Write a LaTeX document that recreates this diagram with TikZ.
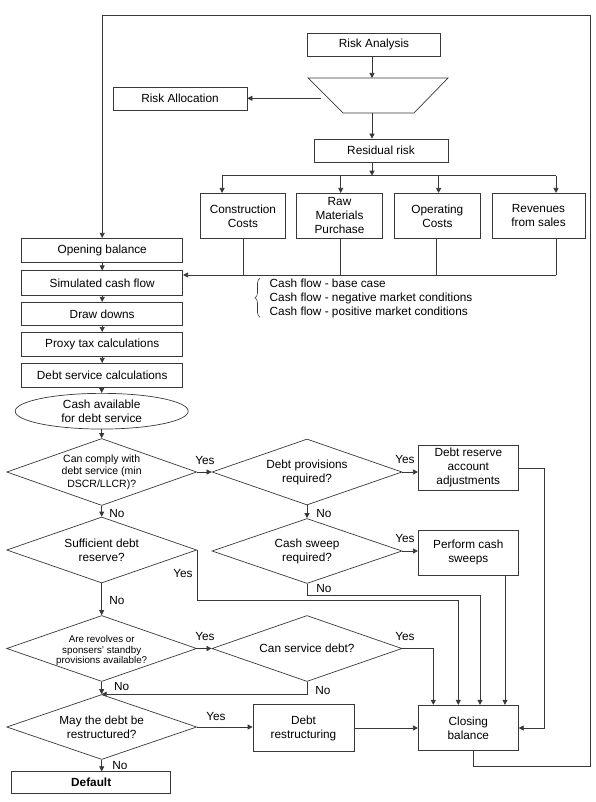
\documentclass[tikz,border=0pt]{standalone}
\usepackage{fontspec}
\setmainfont{Liberation Sans}
\usetikzlibrary{arrows.meta,shapes.geometric,decorations.pathreplacing}
\begin{document}
\begin{tikzpicture}[x=1pt,y=-1pt,
  every node/.style={font=\fontsize{11.8}{14}\selectfont, text=black, inner sep=0pt},
  line/.style={draw=black!78, line width=0.7pt},
  arr/.style={line, -{Triangle[length=5pt,width=5pt]}},
  box/.style={line, rectangle, align=center},
  dia/.style={line, diamond, minimum width=190pt, minimum height=66pt},
  dtext/.style={align=center},
  small/.style={align=center, font=\fontsize{10.5}{12.4}\selectfont},
  tiny/.style={align=center, font=\fontsize{9.8}{10.8}\selectfont},
  lbl/.style={font=\fontsize{11.8}{14}\selectfont}
]
\useasboundingbox (0,0) rectangle (595,802);

% ---------- top section ----------
\node[box, minimum width=133pt, minimum height=23pt] (ra) at (374,44.5) {Risk Analysis};
\draw[line] (308,78) -- (448,78) -- (414,113) -- (343,113) -- cycle;
\coordinate (tzN) at (372,78);
\coordinate (tzS) at (372,113);
\coordinate (tzW) at (321,98.3);
\node[box, minimum width=134pt, minimum height=23pt] (rl) at (180,98.5) {Risk Allocation};
\node[box, minimum width=134pt, minimum height=23pt] (rr) at (381,150.5) {Residual risk};

\draw[arr] (ra.south -| tzN) -- (tzN);
\draw[arr] (tzW) -- (tzW -| rl.east);
\draw[arr] (tzS) -- (tzS |- rr.north);

\coordinate (j) at (372,175.7);
\coordinate (j1) at (222.1,175.7);
\coordinate (j2) at (340.7,175.7);
\coordinate (j3) at (438.6,175.7);
\coordinate (j4) at (556,175.7);
\draw[arr] (rr.south -| j) -- (j);
\draw[line] (j1) -- (j4);

\node[box, minimum width=85.6pt, minimum height=45pt] (cc) at (242.9,215.8) {Construction\\Costs};
\node[box, minimum width=85.6pt, minimum height=45pt] (rm) at (339.5,215.8) {Raw\\Materials\\Purchase};
\node[box, minimum width=86pt, minimum height=45pt] (oc) at (437.4,215.8) {Operating\\Costs};
\node[box, minimum width=93pt, minimum height=45pt] (rv) at (538.5,215.8) {Revenues\\from sales};

\draw[arr] (j1) -- (j1 |- cc.north);
\draw[arr] (j2) -- (j2 |- rm.north);
\draw[arr] (j3) -- (j3 |- oc.north);
\draw[arr] (j4) -- (j4 |- rv.north);

\coordinate (b1) at (243.3,275);
\coordinate (b2) at (340.7,275);
\coordinate (b3) at (436.7,275);
\coordinate (b4) at (556,275);
\draw[line] (b1 |- cc.south) -- (b1);
\draw[line] (b2 |- rm.south) -- (b2);
\draw[line] (b3 |- oc.south) -- (b3);
\draw[line] (b4 |- rv.south) -- (b4);

% ---------- left column ----------
\node[box, minimum width=161pt, minimum height=24.4pt] (ob) at (102.2,250.5) {Opening balance};
\node[box, minimum width=161pt, minimum height=24.3pt] (sc) at (102.2,282.9) {Simulated cash flow};
\node[box, minimum width=161pt, minimum height=23.4pt] (dd) at (102.2,314) {Draw downs};
\node[box, minimum width=161pt, minimum height=23.7pt] (pt) at (102.2,344.2) {Proxy tax calculations};
\node[box, minimum width=161pt, minimum height=24pt] (ds) at (102.2,375.3) {Debt service calculations};
\node[line, ellipse, minimum width=173pt, minimum height=35.7pt] (ca) at (101.7,411.2) {};
\node[align=center, font=\fontsize{11.8}{13.3}\selectfont] (cat) at (ca.center) {Cash available\\for debt service};

\draw[arr] (b4) -- (b4 -| sc.east);

\draw[arr] (ob) -- (sc);
\draw[arr] (sc) -- (dd);
\draw[arr] (dd) -- (pt);
\draw[arr] (pt) -- (ds);
\draw[arr] (ds.south -| ca.north) -- (ca.north);

% ---------- decision diamonds ----------
\node[dia, minimum height=67pt] (d1) at (101.7,472) {};
\node[small] (d1t) at (d1.center) {Can comply with\\debt service (min\\DSCR/LLCR)?};
\node[dia] (d2) at (307,472) {};
\node[dtext] (d2t) at (d2.center) {Debt provisions\\required?};
\node[dia] (d3) at (101.7,550) {};
\node[dtext] (d3t) at (d3.center) {Sufficient debt\\reserve?};
\node[dia, minimum height=65pt] (d5) at (307,551) {};
\node[dtext] (d5t) at (d5.center) {Cash sweep\\required?};
\node[dia] (d4) at (101.7,648.5) {};
\node[tiny] (d4t) at ([yshift=-2pt]d4.center) {Are revolves or\\sponsers' standby\\provisions available?};
\node[dia] (d6) at (307,648.5) {};
\node[dtext] (d6t) at (d6.center) {Can service debt?};
\node[dia, minimum height=65pt] (d7) at (101.7,727) {};
\node[dtext] (d7t) at (d7.center) {May the debt be\\restructured?};

% ---------- right boxes ----------
\node[box, minimum width=100pt, minimum height=45.7pt] (dr) at (468.3,467.9) {Debt reserve\\account\\adjustments};
\node[box, minimum width=100pt, minimum height=45.7pt] (pc) at (468.3,552.9) {Perform cash\\sweeps};
\node[box, minimum width=101pt, minimum height=46.6pt] (rs) at (303.5,728) {Debt\\restructuring};
\node[box, minimum width=100pt, minimum height=45.6pt] (cb) at (468.3,728) {Closing\\balance};
\node[box, minimum width=159pt, minimum height=21.6pt, font=\bfseries\fontsize{11.8}{14}\selectfont] (df) at (91.2,782.5) {Default};

% ---------- connectors ----------
\draw[arr] (ca) -- (d1);
\draw[arr] (d1) -- (d2);
\draw[arr] (d2.east) -- (d2.east -| dr.west);
\draw[arr] (d1) -- (d3);
\draw[arr] (d2) -- (d5);
\draw[arr] (d5.east) -- (d5.east -| pc.west);
\draw[arr] (d3) -- (d4);
\draw[arr] (d4) -- (d6);
\draw[arr] (d4) -- (d7);
\draw[arr] (d6.south) |- (d7.north);
\draw[arr] (d7.east) -- (d7.east -| rs.west);
\draw[arr] (rs) -- (cb);
\draw[arr] (d7.south) -- (d7.south |- df.north);

\draw[arr] (d3.east) -- ++(0,50) -| ([xshift=-10pt]cb.north);
\draw[arr] (d5.south) -- ++(0,11.7) -| ([xshift=11.7pt]cb.north);
\draw[arr] (d6.east) -| ([xshift=-35pt]cb.north);
\draw[arr] ([xshift=36.7pt]pc.south) -- ([xshift=36.7pt]cb.north);
\draw[arr] (dr.east) -| ([xshift=25.7pt]cb.east) -- (cb.east);

% outer feedback loop
\coordinate (lr) at (590.5,766);
\coordinate (ur) at (590.5,15.3);
\draw[arr] ([xshift=5pt]cb.south) |- (lr) -- (ur) -| (ob.north);

% ---------- labels ----------
\node[lbl] (y1) at (205,460) {Yes};
\node[lbl] (y2) at (405,459) {Yes};
\node[lbl] (n1) at (117,513) {No};
\node[lbl] (n2) at (324,513.3) {No};
\node[lbl] (y5) at (405,538) {Yes};
\node[lbl] (n5) at (324,588.3) {No};
\node[lbl] (y3) at (183,573.3) {Yes};
\node[lbl] (n3) at (117,600) {No};
\node[lbl] (y4) at (205,636.7) {Yes};
\node[lbl] (y6) at (405,636.7) {Yes};
\node[lbl] (n6) at (323,690) {No};
\node[lbl] (n4) at (121.7,686.7) {No};
\node[lbl] (y7) at (216,716) {Yes};
\node[lbl] (n7) at (120,765.7) {No};

% ---------- cash flow scenarios ----------
\coordinate (brT) at (260,278.3);
\coordinate (brB) at (260,317.3);
\draw[line, line width=0.6pt, decorate, decoration={brace, amplitude=5pt}] (brB) -- (brT);
\node[anchor=west, align=left, font=\fontsize{11.8}{14.3}\selectfont] (cfl) at (269.5,298.5)
  {Cash flow - base case\\Cash flow - negative market conditions\\Cash flow - positive market conditions};
\end{tikzpicture}
\end{document}
